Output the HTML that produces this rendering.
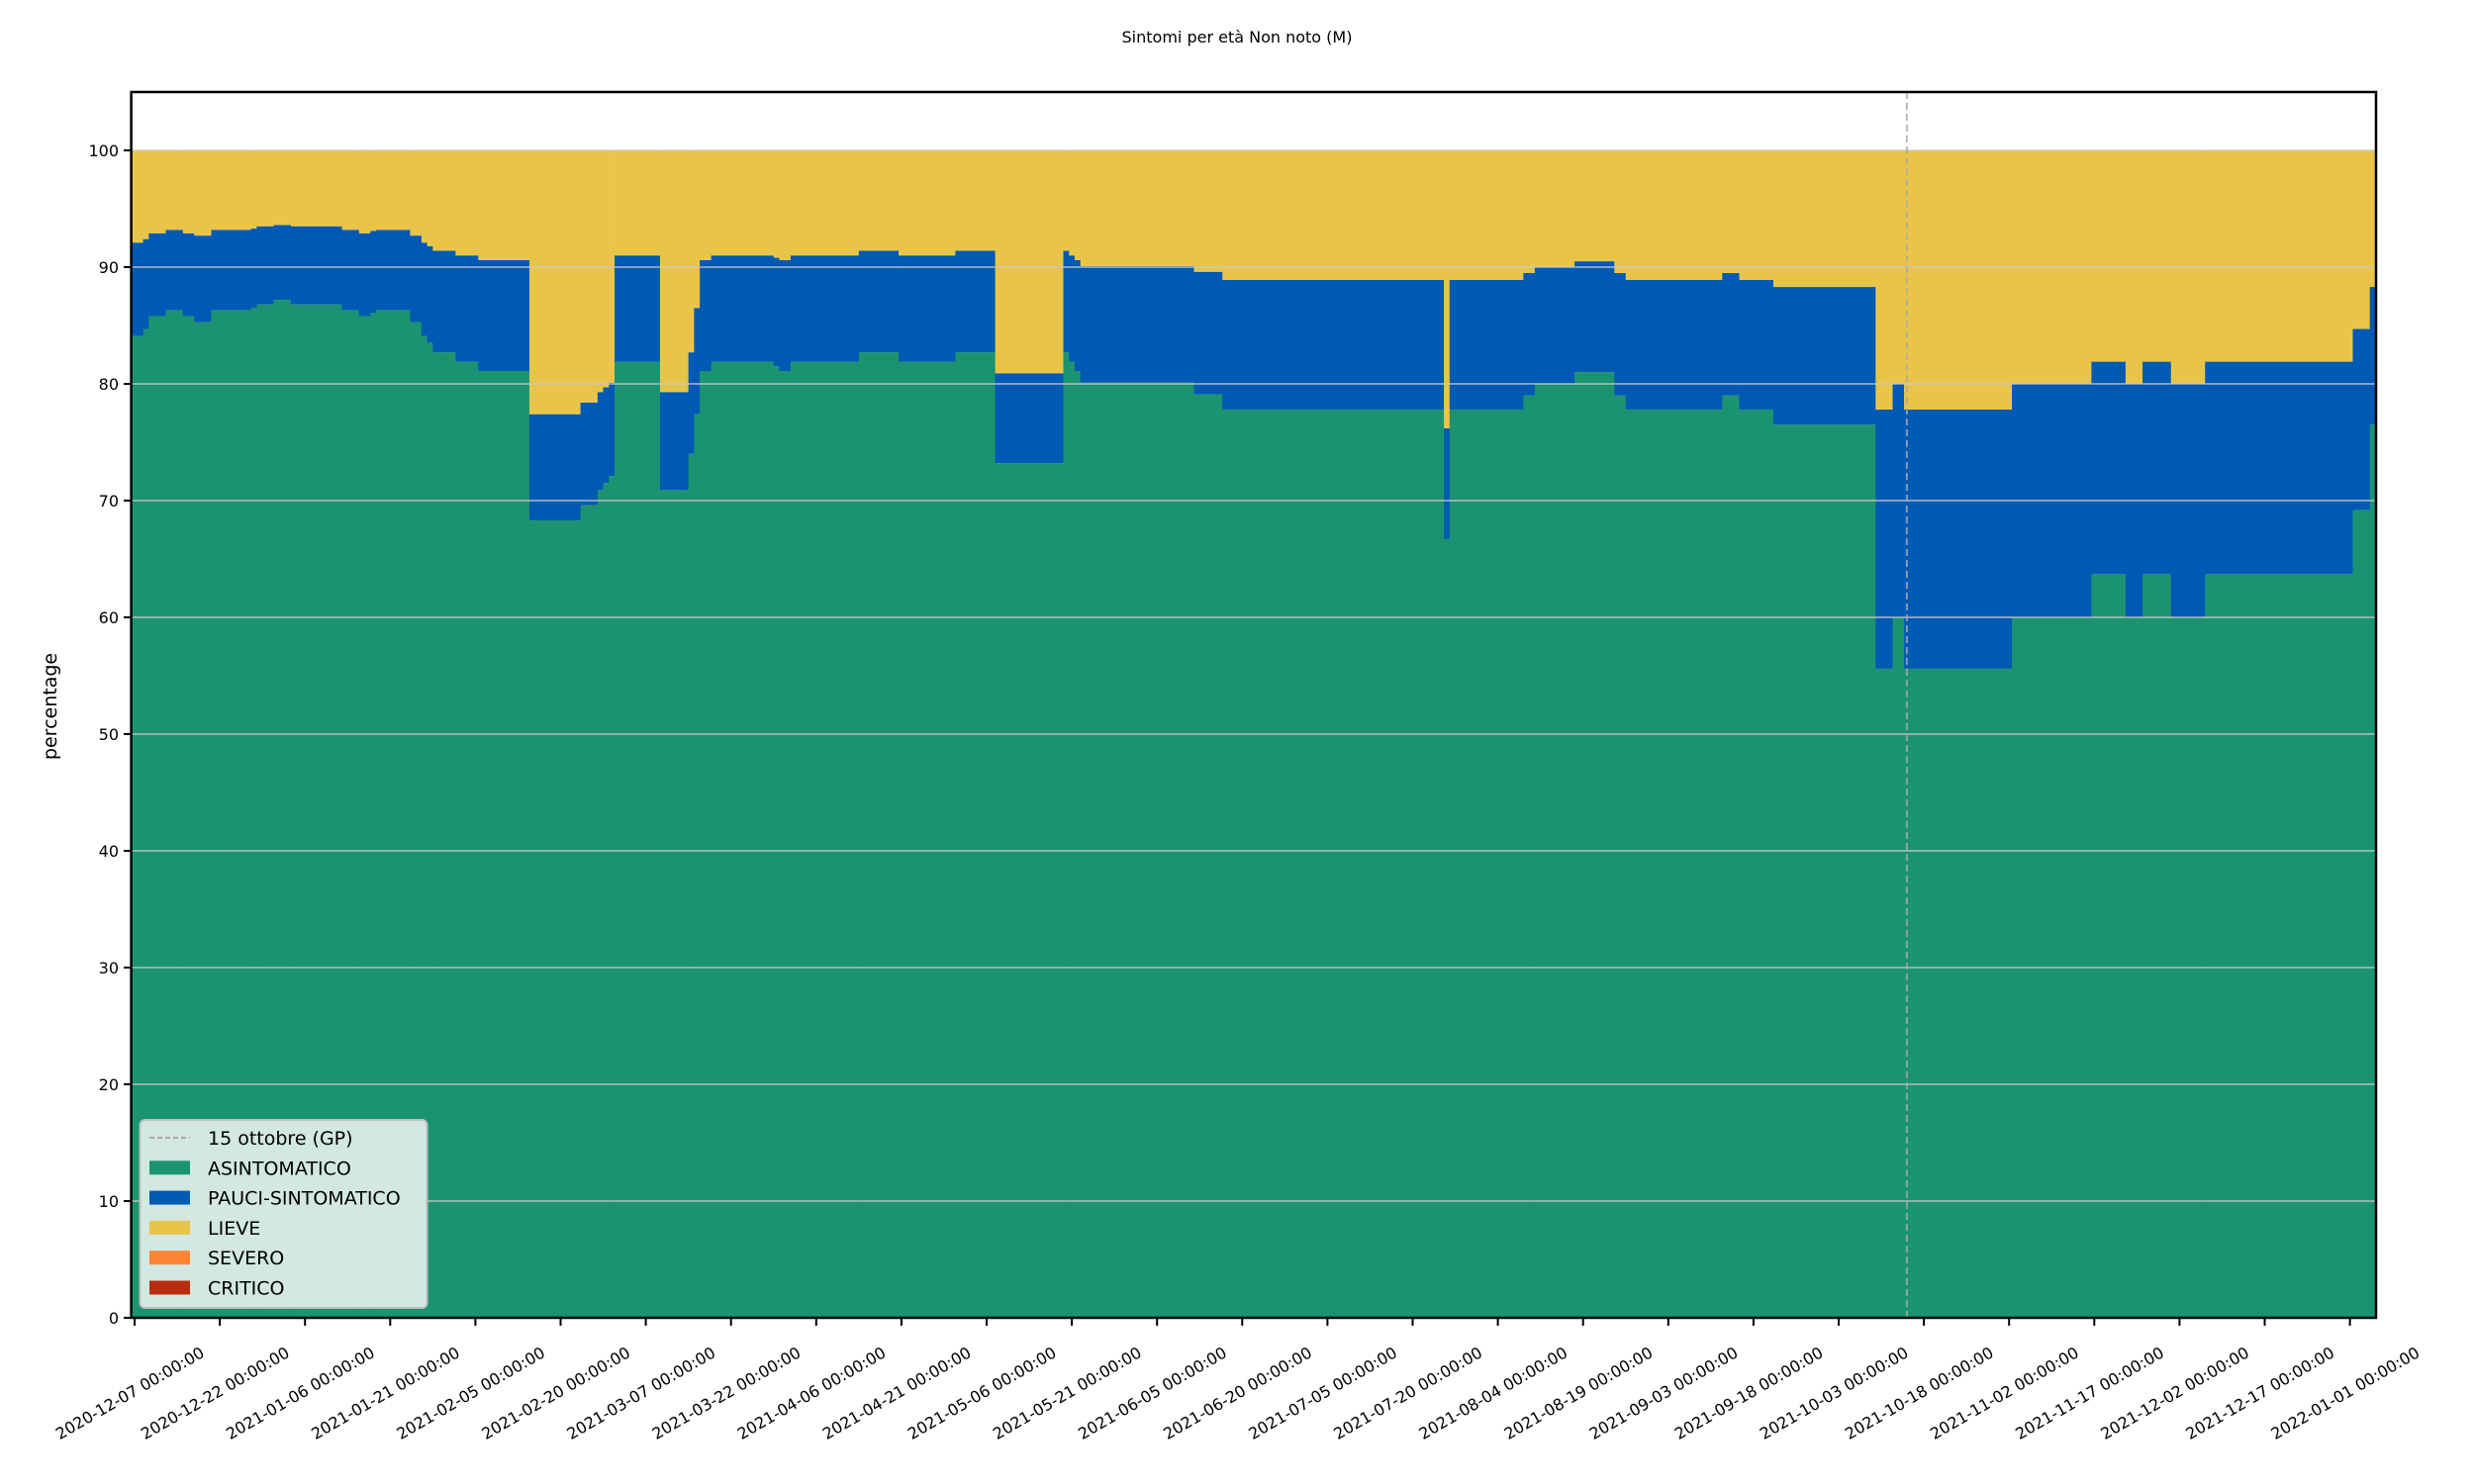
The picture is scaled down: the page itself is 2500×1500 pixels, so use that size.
<!DOCTYPE html>
<html><head><meta charset="utf-8">
<style>
html,body{margin:0;padding:0;background:#fff;}
svg{display:block;font-family:"DejaVu Sans","Liberation Sans",sans-serif;}
</style></head>
<body>
<svg id="chart" width="2500" height="1500" viewBox="0 0 2500 1500" xmlns="http://www.w3.org/2000/svg">
<rect width="2500" height="1500" fill="#fff"/>
<text x="1250" y="43" text-anchor="middle" font-size="16">Sintomi per età Non noto (M)</text>
<text x="0" y="0" transform="translate(57,714) rotate(-90)" text-anchor="middle" font-size="19">percentage</text>
<g id="bars"></g>
<g id="grid"></g>
<g id="yaxis"></g>
<g id="xaxis"></g>
<rect x="132.6" y="93" width="2268.4" height="1239" fill="none" stroke="#000" stroke-width="2.5"/>
<g id="legend"></g>
</svg>
<script>
// segment start days (days since 2020-12-07)
const starts = [0,2,3,6,9,11,14,21,22,25,28,37,40,42,43,49,51,52,53,57,61,70,79,82,83,84,85,93,98,99,100,102,113,114,116,128,135,145,152,164,165,166,167,187,192,231,232,245,247,254,261,263,280,283,289,307,310,312,331,345,351,354,359,365,391,394];
// ASINTOMATICO share (%)
const asintomatico = [84.1,84.7,85.8,86.3,85.8,85.3,86.3,86.5,86.8,87.2,86.8,86.3,85.8,86.1,86.3,85.3,84.1,83.5,82.7,81.9,81.1,68.3,69.6,70.9,71.5,72.1,81.9,70.9,74.0,77.4,81.1,81.9,81.5,81.1,81.9,82.7,81.9,82.7,73.2,82.7,81.9,81.1,80.1,79.1,77.8,66.7,77.8,79.0,80.0,81.0,79.0,77.8,79.0,77.8,76.5,55.6,60.0,55.6,60.0,63.7,60.0,63.7,60.0,63.7,69.2,76.5];
// cumulative top of PAUCI-SINTOMATICO (%)
const pauciTop = [92.1,92.4,92.9,93.2,92.9,92.7,93.2,93.3,93.5,93.6,93.5,93.2,92.9,93.1,93.2,92.7,92.1,91.8,91.4,91.0,90.6,77.4,78.4,79.3,79.7,80.1,91.0,79.3,82.7,86.5,90.6,91.0,90.8,90.6,91.0,91.4,91.0,91.4,80.9,91.4,91.0,90.6,90.1,89.6,88.9,76.2,88.9,89.5,90.0,90.5,89.5,88.9,89.5,88.9,88.3,77.8,80.0,77.8,80.0,81.9,80.0,81.9,80.0,81.9,84.7,88.3];
const pauci = pauciTop.map((t,i)=>t-asintomatico[i]);
const lieve = pauciTop.map(t=>100-t);
const endDay = 394.6;
const yTicks = [0,10,20,30,40,50,60,70,80,90,100];
const xTickLabels = ["2020-12-07","2020-12-22","2021-01-06","2021-01-21","2021-02-05","2021-02-20","2021-03-07","2021-03-22","2021-04-06","2021-04-21","2021-05-06","2021-05-21","2021-06-05","2021-06-20","2021-07-05","2021-07-20","2021-08-04","2021-08-19","2021-09-03","2021-09-18","2021-10-03","2021-10-18","2021-11-02","2021-11-17","2021-12-02","2021-12-17","2022-01-01"];
const markerDay = 312;

const NS="http://www.w3.org/2000/svg";
const X0=136, PXD=5.740, Y0=1332, PXV=11.8;
const xs=d=>X0+d*PXD, ys=v=>Y0-v*PXV;
const COL={a:"#1b9370",p:"#0059b3",l:"#e8c549"};
function mk(tag,attrs,parent){const e=document.createElementNS(NS,tag);for(const k in attrs)e.setAttribute(k,attrs[k]);parent.appendChild(e);return e;}

const bars=document.getElementById('bars');
for(let i=0;i<starts.length;i++){
  const x1=Math.max(132.6,xs(starts[i]-0.5));
  const x2=Math.min(2401,i<starts.length-1?xs(starts[i+1]-0.5):xs(endDay));
  const w=x2-x1+0.4;
  const a=asintomatico[i],p=pauci[i],l=lieve[i];
  const r1=mk('rect',{x:x1,y:ys(a),width:w,height:ys(0)-ys(a),fill:COL.a},bars);
  
  
  const r2=mk('rect',{x:x1,y:ys(a+p),width:w,height:ys(a)-ys(a+p),fill:COL.p},bars);
  
  
  const r3=mk('rect',{x:x1,y:ys(a+p+l),width:w,height:ys(a+p)-ys(a+p+l),fill:COL.l},bars);
  
  
}
const grid=document.getElementById('grid');
const yax=document.getElementById('yaxis');
yTicks.forEach(v=>{
  const g=mk('line',{x1:132.6,x2:2401,y1:ys(v),y2:ys(v),stroke:"#c8c8c8","stroke-opacity":0.65,"stroke-width":2},grid);
  
  
  const t=mk('line',{x1:125,x2:132.6,y1:ys(v),y2:ys(v),stroke:"#000","stroke-width":2},yax);
  
  
  const lb=mk('text',{x:120,y:ys(v)+6,"text-anchor":"end","font-size":16},yax);
  lb.textContent=String(v);
  
  
});
const dl=mk('line',{x1:xs(markerDay),x2:xs(markerDay),y1:93,y2:1332,stroke:"#aaa","stroke-opacity":0.8,"stroke-width":2,"stroke-dasharray":"7,4"},grid);


const xax=document.getElementById('xaxis');
xTickLabels.forEach((s,k)=>{
  const x=xs(k*15);
  const t=mk('line',{x1:x,x2:x,y1:1332,y2:1340,stroke:"#000","stroke-width":2},xax);
  
  
  const lb=mk('text',{x:0,y:0,"text-anchor":"middle","font-size":16,transform:`translate(${x-2},${1413}) rotate(-30)`},xax);
  lb.textContent=s+" 00:00:00";
  
  
});
const leg=document.getElementById('legend');
const box=mk('rect',{x:141.5,y:1132,width:290,height:190,rx:5,fill:"#d2e8e1",stroke:"#c0c0c0","stroke-width":2},leg);


const entries=[["15 ottobre (GP)",null],["ASINTOMATICO","#1b9370"],["PAUCI-SINTOMATICO","#0059b3"],["LIEVE","#e8c549"],["SEVERO","#fb8535"],["CRITICO","#b92c0f"]];
entries.forEach((e,i)=>{
  const cy=1150+i*30.3;
  if(e[1]){
    const p=mk('rect',{x:151,y:cy-7,width:41,height:14,fill:e[1]},leg);
    
    
  } else {
    const p=mk('line',{x1:151,x2:192,y1:cy,y2:cy,stroke:"#aaa","stroke-width":2,"stroke-dasharray":"5,3"},leg);
    
    
  }
  const t=mk('text',{x:210,y:cy+7,"font-size":19},leg);
  t.textContent=e[0];
  
  
});
</script>
</body></html>
